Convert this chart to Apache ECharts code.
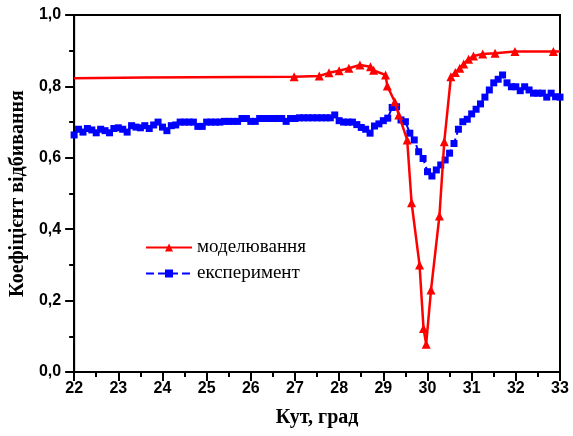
<!DOCTYPE html>
<html>
<head>
<meta charset="utf-8">
<script src="https://cdn.jsdelivr.net/npm/echarts@6/dist/echarts.min.js"></script>
<style>html,body{margin:0;padding:0;background:#fff;}#c{width:573px;height:436px;}</style>
</head>
<body>
<div id="c"></div>
<script>
// Model (red) series: angle, reflectance
const modelAngles = [22.0, 23.6, 26.98, 27.55, 27.77, 28.0, 28.22, 28.47, 28.71, 28.78, 29.05, 29.09, 29.26, 29.35, 29.54, 29.64, 29.82, 29.91, 29.97, 30.08, 30.27, 30.38, 30.53, 30.63, 30.73, 30.82, 30.93, 31.04, 31.25, 31.53, 31.98, 32.85, 33.0];
const modelValues = [0.823, 0.825, 0.827, 0.829, 0.838, 0.844, 0.851, 0.860, 0.855, 0.845, 0.832, 0.801, 0.757, 0.720, 0.650, 0.474, 0.300, 0.122, 0.078, 0.230, 0.437, 0.645, 0.827, 0.839, 0.851, 0.863, 0.876, 0.885, 0.891, 0.893, 0.898, 0.898, 0.898];
const modelMarkerHidden = [true, true, false, false, false, false, false, false, false, false, false, false, false, false, false, false, false, false, false, false, false, false, false, false, false, false, false, false, false, false, false, false, true];

// Experiment (blue) series
const expAngles = [22.0,22.1,22.2,22.3,22.4,22.5,22.6,22.7,22.8,22.9,
  23.0,23.1,23.2,23.3,23.4,23.5,23.6,23.7,23.8,23.9,
  24.0,24.1,24.2,24.3,24.4,24.5,24.6,24.7,24.8,24.9,
  25.0,25.1,25.2,25.3,25.4,25.5,25.6,25.7,25.8,25.9,
  26.0,26.1,26.2,26.3,26.4,26.5,26.6,26.7,26.8,26.9,
  27.0,27.1,27.2,27.3,27.4,27.5,27.6,27.7,27.8,27.9,
  28.0,28.1,28.2,28.3,28.4,28.5,28.6,28.7,28.8,28.9,
  29.0,29.1,29.2,29.3,29.4,29.5,29.6,29.7,29.8,29.9,
  30.0,30.1,30.2,30.3,30.4,30.5,30.6,30.7,30.8,30.9,
  31.0,31.1,31.2,31.3,31.4,31.5,31.6,31.7,31.8,31.9,
  32.0,32.1,32.2,32.3,32.4,32.5,32.6,32.7,32.8,32.9,33.0];
const expValues = [0.664,0.680,0.672,0.682,0.678,0.670,0.680,0.676,0.670,0.682,
  0.684,0.680,0.672,0.690,0.686,0.684,0.690,0.682,0.692,0.700,
  0.686,0.676,0.690,0.692,0.700,0.700,0.700,0.700,0.688,0.688,
  0.700,0.700,0.700,0.700,0.702,0.702,0.702,0.702,0.710,0.710,
  0.702,0.702,0.710,0.710,0.710,0.710,0.710,0.710,0.702,0.710,
  0.710,0.712,0.712,0.712,0.712,0.712,0.712,0.712,0.712,0.720,
  0.704,0.700,0.700,0.700,0.693,0.685,0.680,0.669,0.689,0.695,
  0.704,0.711,0.741,0.743,0.706,0.701,0.669,0.650,0.617,0.598,
  0.561,0.549,0.566,0.580,0.594,0.613,0.640,0.680,0.701,0.708,
  0.723,0.736,0.751,0.770,0.790,0.810,0.820,0.832,0.810,0.799,
  0.799,0.788,0.799,0.790,0.781,0.781,0.781,0.770,0.781,0.771,0.770];

const xTickValues = [22,23,24,25,26,27,28,29,30,31,32,33];
const yTickLabels = ['0,0','0,2','0,4','0,6','0,8','1,0'];

const modelData = modelAngles.map((a, i) => modelMarkerHidden[i]
  ? { value: [a, modelValues[i]], symbol: 'none' }
  : { value: [a, modelValues[i]] });
const expData = expAngles.map((a, i) => [a, expValues[i]]);

const chart = echarts.init(document.getElementById('c'), null, { renderer: 'canvas' });
chart.setOption({
  animation: false,
  backgroundColor: '#fff',
  grid: { left: 73, right: 13, top: 15, bottom: 64, show: true, borderColor: '#000', borderWidth: 2, backgroundColor: 'transparent' },
  legend: {
    orient: 'vertical', left: 140, top: 233, itemWidth: 46, itemHeight: 10, itemGap: 7,
    textStyle: { fontFamily: 'Liberation Serif', fontSize: 19, color: '#000' },
    data: ['моделювання', 'експеримент']
  },
  xAxis: {
    type: 'value', min: 22, max: 33, interval: 1,
    name: 'Кут, град', nameLocation: 'middle', nameGap: 36,
    nameTextStyle: { fontFamily: 'Liberation Serif', fontWeight: 'bold', fontSize: 20, color: '#000' },
    axisLine: { lineStyle: { color: '#000', width: 2 } },
    axisTick: { inside: false, length: 9, lineStyle: { color: '#000', width: 2 } },
    minorTick: { show: true, splitNumber: 2, length: 5, lineStyle: { color: '#000', width: 2 } },
    splitLine: { show: false },
    axisLabel: { fontFamily: 'Liberation Sans', fontWeight: 'bold', fontSize: 16, color: '#000', margin: 9,
      formatter: v => xTickValues.includes(v) ? String(v) : '' }
  },
  yAxis: {
    type: 'value', min: 0, max: 1, interval: 0.2,
    name: 'Коефіцієнт відбивання', nameLocation: 'middle', nameGap: 39,
    nameTextStyle: { fontFamily: 'Liberation Serif', fontWeight: 'bold', fontSize: 20, color: '#000' },
    axisLine: { lineStyle: { color: '#000', width: 2 } },
    axisTick: { inside: false, length: 9, lineStyle: { color: '#000', width: 2 } },
    minorTick: { show: true, splitNumber: 2, length: 5, lineStyle: { color: '#000', width: 2 } },
    splitLine: { show: false },
    axisLabel: { fontFamily: 'Liberation Sans', fontWeight: 'bold', fontSize: 16, color: '#000', margin: 13,
      formatter: v => yTickLabels[Math.round(v / 0.2)] }
  },
  series: [
    {
      name: 'моделювання', type: 'line', data: modelData,
      symbol: 'triangle', symbolSize: 9, showAllSymbol: true,
      itemStyle: { color: '#ff0000' },
      lineStyle: { color: '#ff0000', width: 2.5 },
      z: 3
    },
    {
      name: 'експеримент', type: 'line', data: expData,
      symbol: 'rect', symbolSize: 7, showAllSymbol: true,
      itemStyle: { color: '#0000ff' },
      lineStyle: { color: '#0000ff', width: 2, type: 'dashed' },
      z: 2
    }
  ]
});
</script>
</body>
</html>
